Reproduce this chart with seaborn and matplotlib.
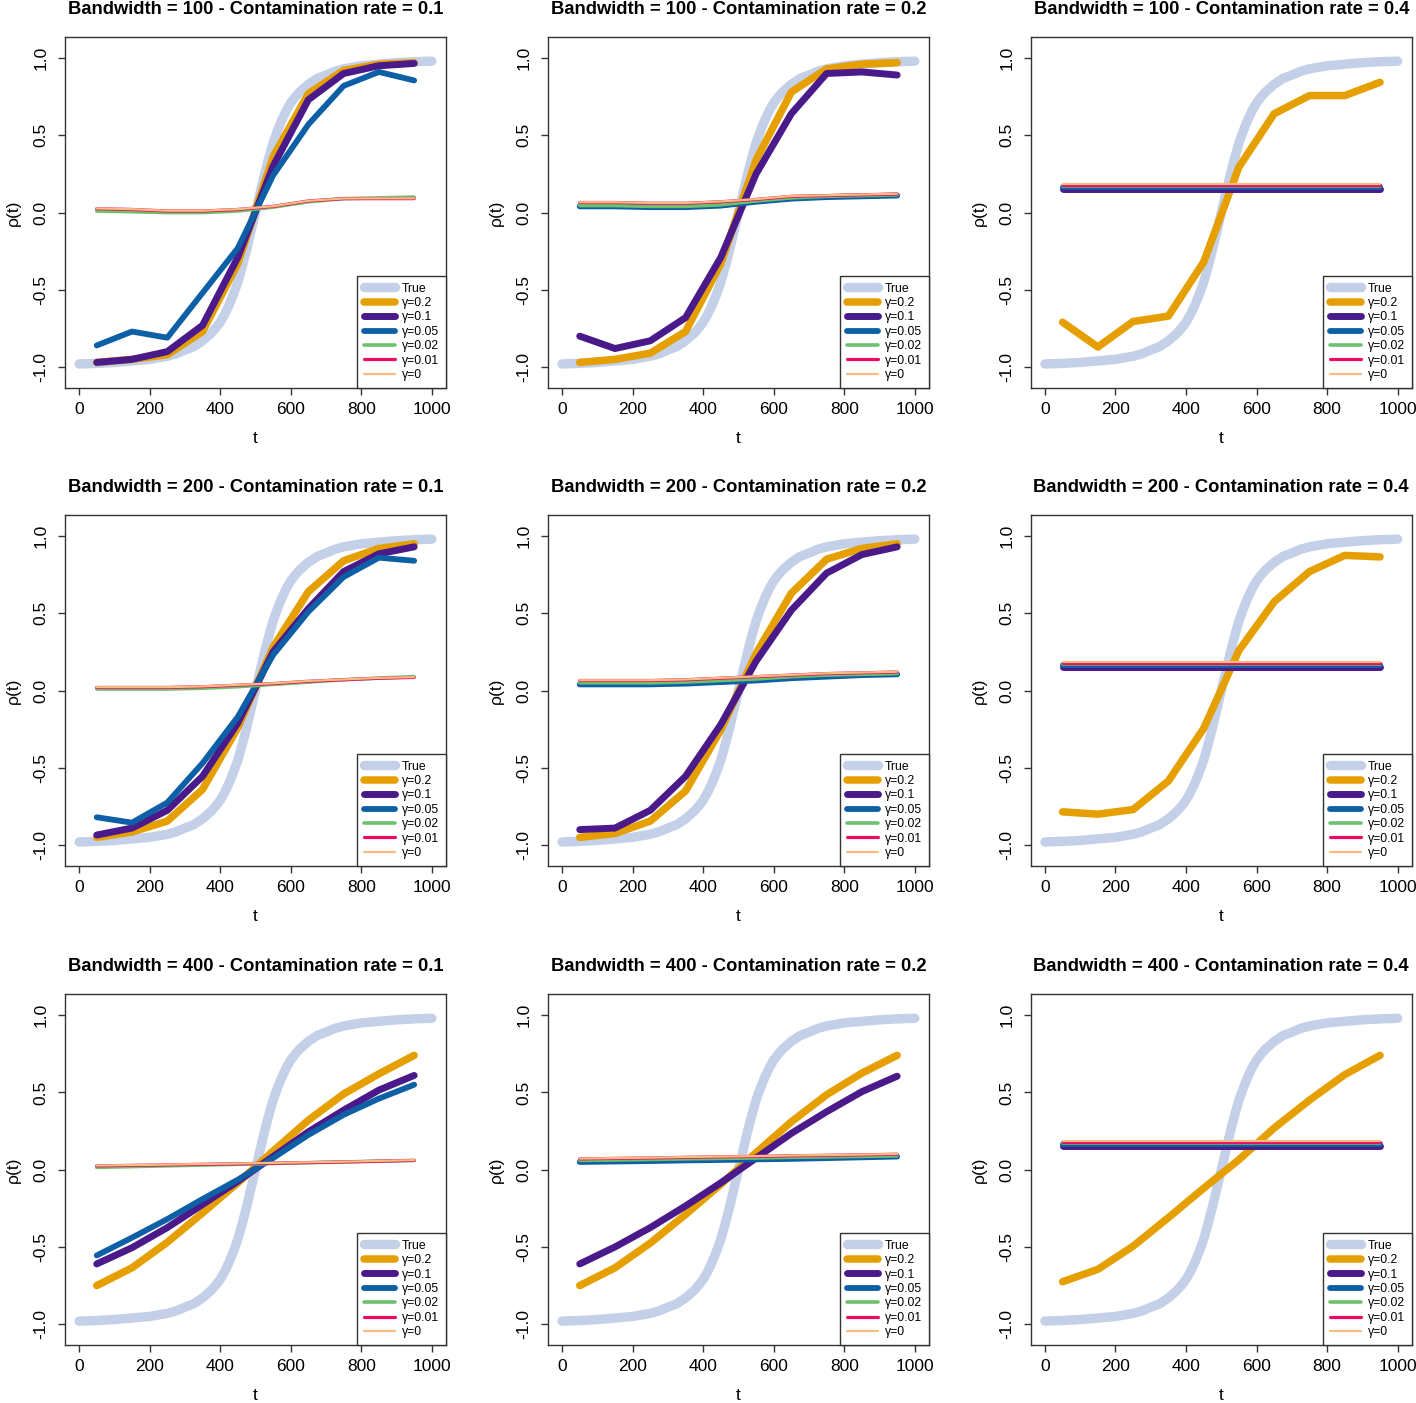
import numpy as np
import pandas as pd
import matplotlib
matplotlib.use("Agg")
import matplotlib.pyplot as plt
import seaborn as sns

# True rho(t) curve
t_true = [0, 50, 100, 150, 200, 225, 250, 275, 300, 325, 350, 375, 387.5, 400, 412.5, 425,
          437.5, 450, 462.5, 475, 487.5, 500, 512.5, 525, 537.5, 550, 562.5, 575, 587.5,
          600, 612.5, 625, 650, 675, 700, 725, 750, 775, 800, 850, 900, 950, 1000]
rho_true = [-0.98, -0.976, -0.97, -0.96, -0.95, -0.94, -0.93, -0.914, -0.89, -0.868, -0.83,
            -0.78, -0.747, -0.71, -0.66, -0.60, -0.53, -0.45, -0.35, -0.24, -0.12, 0.0,
            0.12, 0.24, 0.35, 0.45, 0.53, 0.60, 0.66, 0.71, 0.747, 0.78, 0.83, 0.868, 0.89,
            0.914, 0.93, 0.94, 0.95, 0.96, 0.97, 0.976, 0.98]

# estimation grid
t_est = [50, 150, 250, 350, 450, 550, 650, 750, 850, 950]

bandwidths = [100, 200, 400]
contamination = [0.1, 0.2, 0.4]

# estimates, indexed [bandwidth row][contamination col]
gamma_02 = [
    [[-0.97, -0.95, -0.92, -0.77, -0.33, 0.36, 0.77, 0.92, 0.96, 0.97],
     [-0.97, -0.95, -0.91, -0.77, -0.33, 0.34, 0.78, 0.93, 0.96, 0.97],
     [-0.71, -0.87, -0.705, -0.67, -0.32, 0.295, 0.64, 0.757, 0.757, 0.843]],
    [[-0.95, -0.915, -0.845, -0.64, -0.24, 0.28, 0.64, 0.84, 0.92, 0.95],
     [-0.95, -0.925, -0.845, -0.65, -0.255, 0.24, 0.63, 0.85, 0.92, 0.95],
     [-0.785, -0.80, -0.77, -0.585, -0.245, 0.26, 0.575, 0.77, 0.875, 0.865]],
    [[-0.75, -0.635, -0.47, -0.28, -0.085, 0.12, 0.32, 0.49, 0.62, 0.74],
     [-0.75, -0.635, -0.475, -0.29, -0.095, 0.11, 0.31, 0.485, 0.625, 0.74],
     [-0.725, -0.645, -0.495, -0.31, -0.12, 0.065, 0.27, 0.45, 0.615, 0.74]],
]
gamma_01 = [
    [[-0.97, -0.95, -0.90, -0.73, -0.29, 0.30, 0.73, 0.90, 0.95, 0.965],
     [-0.80, -0.88, -0.83, -0.68, -0.29, 0.25, 0.64, 0.90, 0.91, 0.89],
     [0.155, 0.155, 0.155, 0.155, 0.155, 0.155, 0.155, 0.155, 0.155, 0.155]],
    [[-0.935, -0.89, -0.775, -0.555, -0.21, 0.25, 0.53, 0.77, 0.885, 0.93],
     [-0.90, -0.89, -0.775, -0.555, -0.22, 0.19, 0.52, 0.76, 0.88, 0.93],
     [0.155, 0.155, 0.155, 0.155, 0.155, 0.155, 0.155, 0.155, 0.155, 0.155]],
    [[-0.61, -0.505, -0.375, -0.225, -0.075, 0.085, 0.245, 0.385, 0.515, 0.61],
     [-0.61, -0.50, -0.375, -0.235, -0.085, 0.075, 0.235, 0.375, 0.505, 0.605],
     [0.155, 0.155, 0.155, 0.155, 0.155, 0.155, 0.155, 0.155, 0.155, 0.155]],
]
gamma_005 = [
    [[-0.86, -0.77, -0.81, -0.52, -0.23, 0.24, 0.57, 0.82, 0.91, 0.855],
     [0.04, 0.04, 0.035, 0.035, 0.045, 0.07, 0.09, 0.10, 0.105, 0.11],
     [0.165, 0.165, 0.165, 0.165, 0.165, 0.165, 0.165, 0.165, 0.165, 0.165]],
    [[-0.82, -0.855, -0.725, -0.47, -0.17, 0.23, 0.51, 0.735, 0.86, 0.84],
     [0.04, 0.04, 0.04, 0.045, 0.055, 0.065, 0.08, 0.09, 0.10, 0.105],
     [0.165, 0.165, 0.165, 0.165, 0.165, 0.165, 0.165, 0.165, 0.165, 0.165]],
    [[-0.555, -0.44, -0.32, -0.19, -0.065, 0.075, 0.225, 0.355, 0.46, 0.55],
     [0.05, 0.053, 0.056, 0.06, 0.063, 0.067, 0.07, 0.075, 0.08, 0.085],
     [0.165, 0.165, 0.165, 0.165, 0.165, 0.165, 0.165, 0.165, 0.165, 0.165]],
]
gamma_002 = [
    [[0.01, 0.005, 0.0, 0.0, 0.01, 0.035, 0.07, 0.09, 0.095, 0.10],
     [0.045, 0.045, 0.04, 0.04, 0.05, 0.075, 0.095, 0.105, 0.11, 0.115],
     [0.17, 0.17, 0.17, 0.17, 0.17, 0.17, 0.17, 0.17, 0.17, 0.17]],
    [[0.01, 0.01, 0.01, 0.015, 0.025, 0.04, 0.055, 0.07, 0.08, 0.09],
     [0.05, 0.05, 0.05, 0.055, 0.065, 0.075, 0.09, 0.10, 0.105, 0.11],
     [0.17, 0.17, 0.17, 0.17, 0.17, 0.17, 0.17, 0.17, 0.17, 0.17]],
    [[0.015, 0.02, 0.025, 0.03, 0.035, 0.04, 0.045, 0.05, 0.055, 0.06],
     [0.06, 0.063, 0.066, 0.07, 0.073, 0.076, 0.08, 0.083, 0.086, 0.09],
     [0.17, 0.17, 0.17, 0.17, 0.17, 0.17, 0.17, 0.17, 0.17, 0.17]],
]
gamma_001 = [
    [[0.025, 0.02, 0.01, 0.01, 0.02, 0.04, 0.075, 0.09, 0.09, 0.09],
     [0.065, 0.065, 0.06, 0.06, 0.07, 0.085, 0.105, 0.11, 0.115, 0.12],
     [0.18, 0.18, 0.18, 0.18, 0.18, 0.18, 0.18, 0.18, 0.18, 0.18]],
    [[0.02, 0.02, 0.02, 0.025, 0.035, 0.045, 0.06, 0.07, 0.08, 0.085],
     [0.065, 0.065, 0.065, 0.07, 0.08, 0.09, 0.10, 0.11, 0.115, 0.12],
     [0.18, 0.18, 0.18, 0.18, 0.18, 0.18, 0.18, 0.18, 0.18, 0.18]],
    [[0.025, 0.028, 0.031, 0.035, 0.038, 0.042, 0.046, 0.05, 0.055, 0.06],
     [0.07, 0.073, 0.076, 0.08, 0.083, 0.086, 0.09, 0.093, 0.096, 0.10],
     [0.18, 0.18, 0.18, 0.18, 0.18, 0.18, 0.18, 0.18, 0.18, 0.18]],
]
gamma_0 = [
    [[0.027, 0.022, 0.012, 0.012, 0.022, 0.041, 0.076, 0.091, 0.092, 0.092],
     [0.067, 0.067, 0.062, 0.062, 0.072, 0.087, 0.107, 0.112, 0.117, 0.122],
     [0.186, 0.186, 0.186, 0.186, 0.186, 0.186, 0.186, 0.186, 0.186, 0.186]],
    [[0.022, 0.022, 0.022, 0.027, 0.037, 0.047, 0.062, 0.072, 0.082, 0.087],
     [0.067, 0.067, 0.067, 0.072, 0.082, 0.092, 0.102, 0.112, 0.117, 0.122],
     [0.186, 0.186, 0.186, 0.186, 0.186, 0.186, 0.186, 0.186, 0.186, 0.186]],
    [[0.027, 0.03, 0.033, 0.037, 0.04, 0.044, 0.048, 0.052, 0.057, 0.062],
     [0.072, 0.075, 0.078, 0.082, 0.085, 0.088, 0.092, 0.095, 0.098, 0.102],
     [0.186, 0.186, 0.186, 0.186, 0.186, 0.186, 0.186, 0.186, 0.186, 0.186]],
]

series_labels = ["γ=0.2", "γ=0.1", "γ=0.05", "γ=0.02", "γ=0.01", "γ=0"]
series_data = [gamma_02, gamma_01, gamma_005, gamma_002, gamma_001, gamma_0]
series_colors = ["#E69F00", "#4A1A8A", "#0D5FA6", "#6CC16F", "#EC0A63", "#F6BD82"]
series_widths = [5.4, 5.0, 4.2, 2.6, 2.3, 1.6]
true_color = "#C4CFE8"

sns.set_theme(style="ticks")
plt.rcParams["font.family"] = ["Liberation Sans", "DejaVu Sans"]
plt.rcParams["text.color"] = "black"
plt.rcParams["axes.labelcolor"] = "black"

fig = plt.figure(figsize=(14.16, 14.03), dpi=100)

lefts = [0.0459, 0.387, 0.728]
bottoms = [0.7235, 0.3828, 0.0413]
w, h = 0.269, 0.250

for i, bw in enumerate(bandwidths):
    for j, cr in enumerate(contamination):
        ax = fig.add_axes([lefts[j], bottoms[i], w, h])
        sns.lineplot(x=t_true, y=rho_true, ax=ax, color=true_color, lw=6.8,
                     label="True", solid_capstyle="round", solid_joinstyle="round")
        for lab, data, col, lw in zip(series_labels, series_data, series_colors, series_widths):
            sns.lineplot(x=t_est, y=data[i][j], ax=ax, color=col, lw=lw, label=lab,
                         solid_capstyle="round", solid_joinstyle="round", sort=False)
        ax.set_xlim(-40, 1040)
        ax.set_ylim(-1.135, 1.135)
        ax.set_xticks([0, 200, 400, 600, 800, 1000])
        ax.set_yticks([-1.0, -0.5, 0.0, 0.5, 1.0])
        ax.set_yticklabels(["-1.0", "-0.5", "0.0", "0.5", "1.0"], rotation=90, va="center")
        ax.tick_params(axis="both", direction="out", length=5, width=1, labelsize=12.5,
                       color="#333333", labelcolor="black")
        ax.tick_params(axis="x", pad=5)
        ax.tick_params(axis="y", pad=7)
        for sp in ax.spines.values():
            sp.set_visible(True)
            sp.set_color("#333333")
            sp.set_linewidth(1)
        ax.set_xlabel("t", fontsize=12.5, labelpad=10)
        ax.set_ylabel("ρ(t)", fontsize=12.5, labelpad=9)
        ax.set_title(f"Bandwidth = {bw} - Contamination rate = {cr}",
                     fontsize=13.2, fontweight="bold", pad=17)
        leg = ax.legend(loc="lower right", fontsize=8.8, frameon=True, fancybox=False,
                        borderaxespad=0, handlelength=2.5, handletextpad=0.6,
                        labelspacing=0.2, borderpad=0.55)
        leg.get_frame().set_edgecolor("#333333")
        leg.get_frame().set_linewidth(1)
        leg.get_frame().set_alpha(1)

fig.savefig("out.png", dpi=100)
